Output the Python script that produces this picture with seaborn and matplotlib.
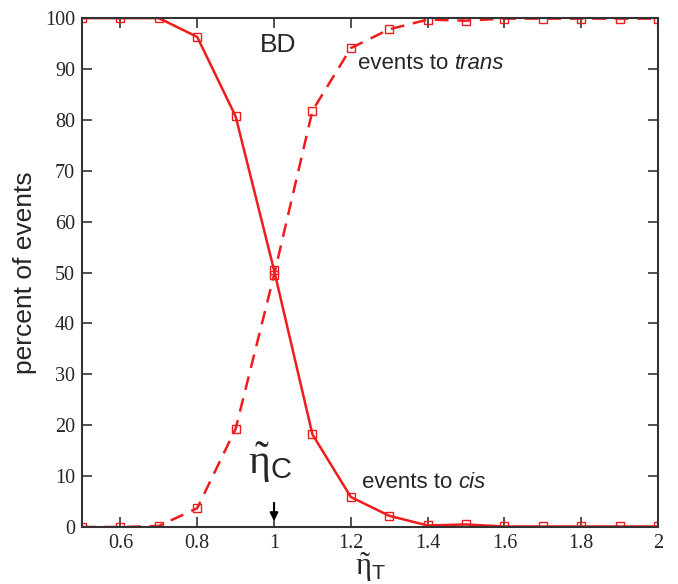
import numpy as np
import pandas as pd
import matplotlib
matplotlib.use("Agg")
import matplotlib.pyplot as plt
import seaborn as sns

eta_t = [0.5, 0.6, 0.7, 0.8, 0.9, 1.0, 1.1, 1.2, 1.3, 1.4, 1.5, 1.6, 1.7, 1.8, 1.9, 2.0]
cis = [100, 100, 100, 96.3, 80.7, 50.5, 18.2, 5.9, 2.2, 0.3, 0.5, 0.1, 0.1, 0.1, 0.1, 0.1]
trans = [0, 0, 0.2, 3.7, 19.3, 49.5, 81.8, 94.1, 97.8, 99.7, 99.5, 99.9, 99.9, 99.9, 99.9, 99.9]
x_ticks = [0.6, 0.8, 1.0, 1.2, 1.4, 1.6, 1.8, 2.0]
x_tick_labels = ["0.6", "0.8", "1", "1.2", "1.4", "1.6", "1.8", "2"]
y_ticks = [0, 10, 20, 30, 40, 50, 60, 70, 80, 90, 100]

df = pd.DataFrame({"eta": eta_t * 2, "pct": cis + trans,
                   "kind": ["cis"] * len(eta_t) + ["trans"] * len(eta_t)})

sns.set_style("ticks")
plt.rcParams["font.family"] = ["Liberation Sans", "DejaVu Sans"]
plt.rcParams["mathtext.fontset"] = "custom"
plt.rcParams["mathtext.rm"] = "Liberation Serif"
plt.rcParams["mathtext.it"] = "Liberation Serif"
plt.rcParams["mathtext.sf"] = "Liberation Sans"

fig = plt.figure(figsize=(6.78, 5.84), dpi=100)
ax = fig.add_axes([0.121, 0.0976, 0.8495, 0.8714])

red = "#ee1c1c"
sns.lineplot(data=df[df.kind == "cis"], x="eta", y="pct", ax=ax, color=red,
             linewidth=1.8, marker="s", markersize=6, markerfacecolor="none",
             markeredgecolor=red, markeredgewidth=1.0)
sns.lineplot(data=df[df.kind == "trans"], x="eta", y="pct", ax=ax, color=red,
             linewidth=1.8, linestyle=(0, (5.5, 3.5)), marker="s", markersize=6,
             markerfacecolor="none", markeredgecolor=red, markeredgewidth=1.0)

ax.set_xlim(0.5, 2.0)
ax.set_ylim(0, 100)
ax.set_xticks(x_ticks)
ax.set_xticklabels(x_tick_labels)
ax.set_yticks(y_ticks)
for lab in ax.get_xticklabels() + ax.get_yticklabels():
    lab.set_family("Liberation Serif")
    lab.set_fontsize(14.5)
ax.tick_params(direction="in", length=7, width=1.2, top=True, right=True,
               color="#333333", pad=5)
for s in ax.spines.values():
    s.set_visible(True)
    s.set_linewidth(1.5)
    s.set_color("#333333")

ax.set_ylabel("percent of events", fontsize=19, labelpad=6)
ax.set_xlabel(r"$\tilde{\eta}_{\mathsf{T}}$", fontsize=22, labelpad=-2)

ax.text(1.01, 94.7, "BD", fontsize=19, ha="center", va="center")
t1 = ax.text(1.219, 90.0, "events to ", fontsize=16, ha="left", va="baseline")
ax.annotate("trans", xy=(1, 0), xycoords=t1, fontsize=16, style="italic",
            ha="left", va="bottom")
t2 = ax.text(1.229, 7.6, "events to ", fontsize=16, ha="left", va="baseline")
ax.annotate("cis", xy=(1, 0), xycoords=t2, fontsize=16, style="italic",
            ha="left", va="bottom")

ax.text(0.99, 12.5, r"$\tilde{\eta}_{\mathsf{C}}$", fontsize=30, ha="center", va="center")
ax.annotate("", xy=(1.0, 0.6), xytext=(1.0, 5.3),
            arrowprops=dict(arrowstyle="-|>", color="black", lw=1.5, mutation_scale=12))

fig.savefig("out.png", dpi=100)
